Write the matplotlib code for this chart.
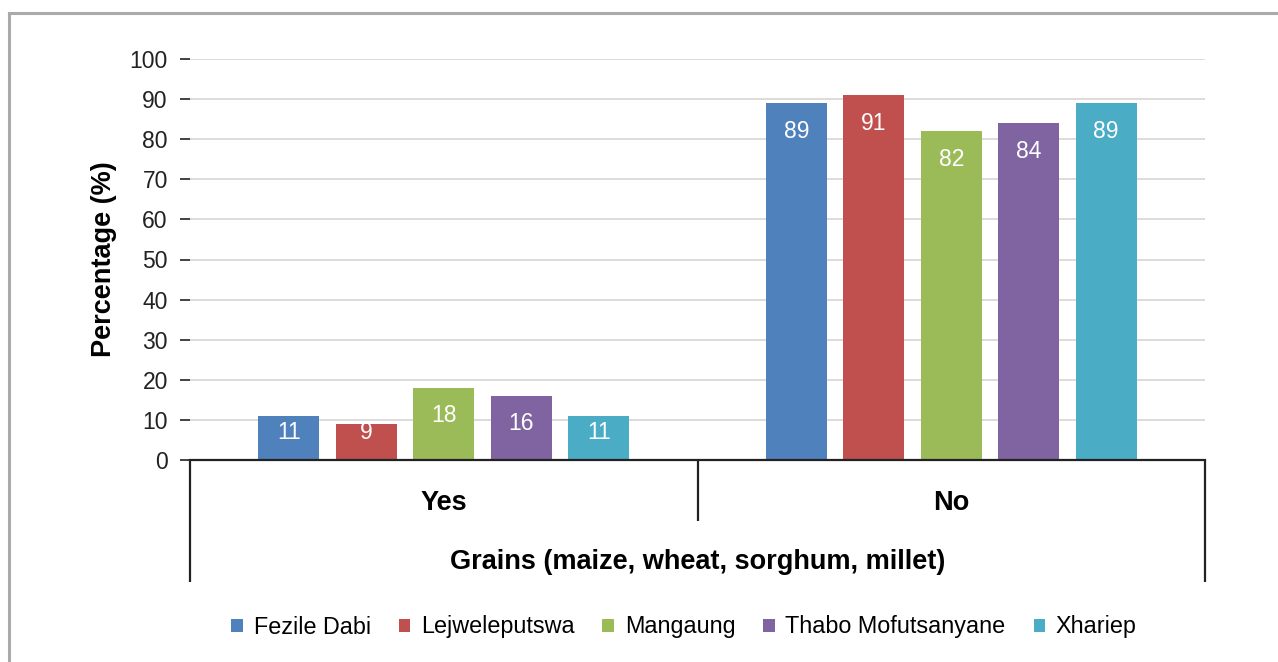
import numpy as np
import matplotlib
matplotlib.use("Agg")
import matplotlib.pyplot as plt
from matplotlib.lines import Line2D
import matplotlib.transforms as mtransforms

plt.rcParams['font.family'] = ['Liberation Sans', 'DejaVu Sans']

# data
categories = ['Yes', 'No']
districts = ['Fezile Dabi', 'Lejweleputswa', 'Mangaung', 'Thabo Mofutsanyane', 'Xhariep']
values = {
    'Fezile Dabi': [11, 89],
    'Lejweleputswa': [9, 91],
    'Mangaung': [18, 82],
    'Thabo Mofutsanyane': [16, 84],
    'Xhariep': [11, 89],
}
colors = ['#4F81BD', '#C0504D', '#9BBB59', '#8064A2', '#4BACC6']
group_title = 'Grains (maize, wheat, sorghum, millet)'

W, H = 1278, 662
fig = plt.figure(figsize=(W / 100, H / 100), dpi=100)
ax = fig.add_axes([190 / W, 1 - 460 / H, 1015 / W, 401 / H])

x = np.arange(len(categories))
width = 0.12
step = 0.1527
for i, (name, col) in enumerate(zip(districts, colors)):
    pos = x + (i - 2) * step
    vals = values[name]
    ax.bar(pos, vals, width=width, color=col, label=name, zorder=3)
    for px, v in zip(pos, vals):
        ax.text(px, max(v - 7, 6.8), str(v), ha='center', va='center',
                color='white', fontsize=16.5, zorder=4)

ax.set_xlim(-0.5, 1.5)
ax.set_ylim(0, 100)
ax.set_yticks(np.arange(0, 101, 10))
ax.set_xticks([])
ax.tick_params(axis='y', length=7, width=1.3, color='#333333', pad=9,
               labelsize=16.5, labelcolor='#222222')
ax.yaxis.grid(True, color='#dcd8d8', linewidth=1.3, zorder=0)
for s in ['top', 'right', 'left']:
    ax.spines[s].set_visible(False)
ax.spines['bottom'].set_linewidth(1.6)
ax.spines['bottom'].set_color('#222222')
ax.spines['bottom'].set_zorder(5)

ax.set_ylabel('Percentage (%)', fontsize=19.5, fontweight='bold', labelpad=9)

# category axis with separators
trans = mtransforms.blended_transform_factory(ax.transData, ax.transAxes)
for xv, ybot in [(-0.5, -0.304), (0.5, -0.152), (1.5, -0.304)]:
    ax.plot([xv, xv], [0, ybot], transform=trans, color='#222222', lw=1.6,
            clip_on=False, solid_capstyle='butt')
for xv, lab in zip(x, categories):
    ax.text(xv, -0.107, lab, transform=trans, ha='center', va='center',
            fontsize=19.5, fontweight='bold')
ax.text(0.5, -0.255, group_title, transform=trans, ha='center', va='center',
        fontsize=19.5, fontweight='bold')

ax.legend(loc='center', bbox_to_anchor=(684 / W, 1 - 627 / H),
          bbox_transform=fig.transFigure, ncol=5, frameon=False,
          fontsize=16.8, handlelength=0.5, handleheight=0.5,
          handletextpad=0.45, columnspacing=1.2)

# outer frame (top and left edges visible)
fig.add_artist(Line2D([8.5 / W, 1], [1 - 13 / H, 1 - 13 / H], color='#aaaaaa', lw=2.2,
                      transform=fig.transFigure))
fig.add_artist(Line2D([9 / W, 9 / W], [0, 1 - 13 / H], color='#aaaaaa', lw=2.2,
                      transform=fig.transFigure))

fig.savefig('out.png', dpi=100)
